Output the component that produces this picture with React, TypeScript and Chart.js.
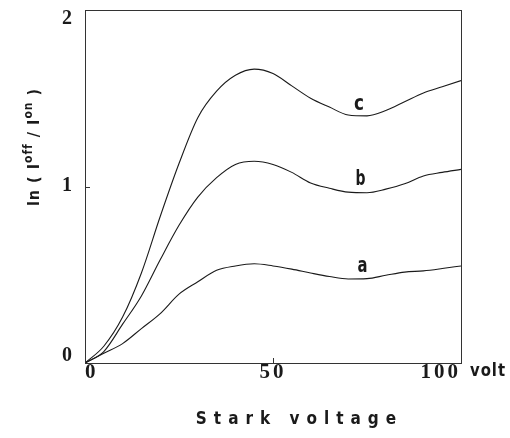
import React, { useEffect, useRef } from "react";
import { Chart, registerables } from "chart.js";

Chart.register(...registerables);

const voltage = [0, 5, 10, 15, 20, 25, 30, 35, 40, 45, 50, 55, 60, 65, 70, 75, 80, 85, 90, 95, 100];
const curveA = [0, 0.055, 0.11, 0.195, 0.28, 0.39, 0.46, 0.525, 0.55, 0.562, 0.55, 0.532, 0.51, 0.49, 0.476, 0.478, 0.497, 0.515, 0.522, 0.535, 0.55];
const curveB = [0, 0.065, 0.22, 0.38, 0.585, 0.78, 0.94, 1.05, 1.125, 1.143, 1.125, 1.08, 1.02, 0.99, 0.968, 0.965, 0.985, 1.015, 1.06, 1.08, 1.097];
const curveC = [0, 0.095, 0.26, 0.51, 0.83, 1.13, 1.39, 1.54, 1.63, 1.665, 1.64, 1.57, 1.5, 1.45, 1.405, 1.4, 1.43, 1.48, 1.53, 1.565, 1.6];

const curveNames = ["a", "b", "c"];
const labelX = [73.8, 73.3, 72.9];
const labelY = [0.515, 1.011, 1.433];

const xTicks = [0, 50, 100];
const yTicks = [0, 1, 2];

const xTitle = "Stark voltage";
const xUnit = "volt";

const INK = "#1a1a1a";
const SANS = '"Liberation Sans Narrow", "DejaVu Sans Condensed", "Liberation Sans", sans-serif';
const SERIF = '"Liberation Serif", "DejaVu Serif", serif';

const decorPlugin = {
  id: "decor",
  beforeDraw(chart: any) {
    (chart.ctx as any).letterSpacing = "3px";
  },
  afterDraw(chart: any) {
    const ctx = chart.ctx as CanvasRenderingContext2D;
    const { left, right, top, bottom } = chart.chartArea;
    const xs = chart.scales.x;
    const ys = chart.scales.y;
    ctx.save();
    (ctx as any).letterSpacing = "0px";
    // frame
    ctx.strokeStyle = "#333";
    ctx.lineWidth = 1;
    ctx.strokeRect(Math.round(left) + 0.5, Math.round(top) + 0.5, Math.round(right - left), Math.round(bottom - top));
    // inward ticks
    ctx.beginPath();
    xs.ticks.forEach((t: any) => {
      const px = Math.round(xs.getPixelForValue(t.value)) + 0.5;
      ctx.moveTo(px, bottom);
      ctx.lineTo(px, bottom - 5);
    });
    ys.ticks.forEach((t: any) => {
      const py = Math.round(ys.getPixelForValue(t.value)) + 0.5;
      ctx.moveTo(left, py);
      ctx.lineTo(left + 5, py);
    });
    ctx.stroke();

    ctx.fillStyle = INK;

    // y tick labels, inner-aligned (first sits above its tick, last below it)
    ctx.font = `bold 20px ${SERIF}`;
    ctx.textAlign = "right";
    ctx.textBaseline = "alphabetic";
    const digitH = 13;
    ys.ticks.forEach((t: any, i: number) => {
      const py = ys.getPixelForValue(t.value);
      let base;
      if (i === 0) base = py - 2;
      else if (i === ys.ticks.length - 1) base = py + digitH + 1;
      else base = py + digitH / 2 - 2;
      ctx.fillText(String(t.value), left - 13, base);
    });

    // curve labels
    ctx.font = `bold 21px ${SANS}`;
    ctx.textAlign = "center";
    ctx.textBaseline = "alphabetic";
    curveNames.forEach((n, i) => {
      ctx.fillText(n, xs.getPixelForValue(labelX[i]), ys.getPixelForValue(labelY[i]), 10);
    });

    // x unit
    ctx.font = `bold 17px ${SANS}`;
    (ctx as any).letterSpacing = "1px";
    ctx.textAlign = "left";
    ctx.textBaseline = "middle";
    ctx.fillText(xUnit, right + 9, 372, 36);

    // x title
    ctx.font = `bold 17px ${SANS}`;
    (ctx as any).letterSpacing = "7px";
    ctx.textAlign = "left";
    ctx.textBaseline = "middle";
    const tw = ctx.measureText(xTitle).width - 7;
    ctx.fillText(xTitle, 296 - tw / 2, 420);

    // y title with superscripts, rotated
    (ctx as any).letterSpacing = "1px";
    const segs = [
      { t: "ln ( I", s: 16, r: 0 },
      { t: "off", s: 12, r: 6 },
      { t: " / I", s: 16, r: 0 },
      { t: "on", s: 12, r: 6 },
      { t: " )", s: 16, r: 0 },
    ];
    let total = 0;
    segs.forEach((sg) => {
      ctx.font = `bold ${sg.s}px ${SANS}`;
      total += ctx.measureText(sg.t).width;
    });
    ctx.translate(35, 147);
    ctx.rotate(-Math.PI / 2);
    ctx.textAlign = "left";
    ctx.textBaseline = "middle";
    let cx = -total / 2;
    segs.forEach((sg) => {
      ctx.font = `bold ${sg.s}px ${SANS}`;
      ctx.fillText(sg.t, cx, -sg.r);
      cx += ctx.measureText(sg.t).width;
    });
    ctx.restore();
  },
};

function zeroPad(s: any) {
  s.paddingTop = 0;
  s.paddingBottom = 0;
  s.paddingLeft = 0;
  s.paddingRight = 0;
}

export default function App() {
  const ref = useRef<HTMLCanvasElement | null>(null);
  useEffect(() => {
    if (!ref.current) return;
    const mk = (vals: number[]) => voltage.map((v, i) => ({ x: v, y: vals[i] }));
    const chart = new Chart(ref.current, {
      type: "line",
      data: {
        datasets: [curveA, curveB, curveC].map((vals, i) => ({
          label: curveNames[i],
          data: mk(vals),
          borderColor: INK,
          borderWidth: 1.1,
          pointRadius: 0,
          tension: 0.4,
          cubicInterpolationMode: "monotone" as const,
          fill: false,
        })),
      },
      options: {
        responsive: false,
        animation: false,
        devicePixelRatio: 1,
        layout: { padding: { left: 0, right: 49, top: 10, bottom: 0 } },
        plugins: { legend: { display: false }, tooltip: { enabled: false }, title: { display: false } },
        scales: {
          x: {
            type: "linear",
            min: 0,
            max: 100,
            afterFit: (s: any) => { s.height = 75; zeroPad(s); },
            afterBuildTicks: (s: any) => { s.ticks = xTicks.map((v) => ({ value: v })); },
            grid: { display: false, drawTicks: false },
            border: { display: false },
            ticks: {
              align: "inner",
              padding: -3,
              color: INK,
              font: { family: SERIF, size: 21, weight: "bold" },
              maxRotation: 0,
            },
          },
          y: {
            type: "linear",
            min: 0,
            max: 2,
            afterFit: (s: any) => { s.width = 85; zeroPad(s); },
            afterBuildTicks: (s: any) => { s.ticks = yTicks.map((v) => ({ value: v })); },
            grid: { display: false, drawTicks: false },
            border: { display: false },
            ticks: { display: false },
          },
        },
      },
      plugins: [decorPlugin],
    } as any);
    return () => chart.destroy();
  }, []);
  return (
    <div style={{ position: "fixed", left: 0, top: 0, width: 510, height: 438, background: "#fff" }}>
      <canvas ref={ref} width={510} height={438} style={{ display: "block" }} />
    </div>
  );
}
